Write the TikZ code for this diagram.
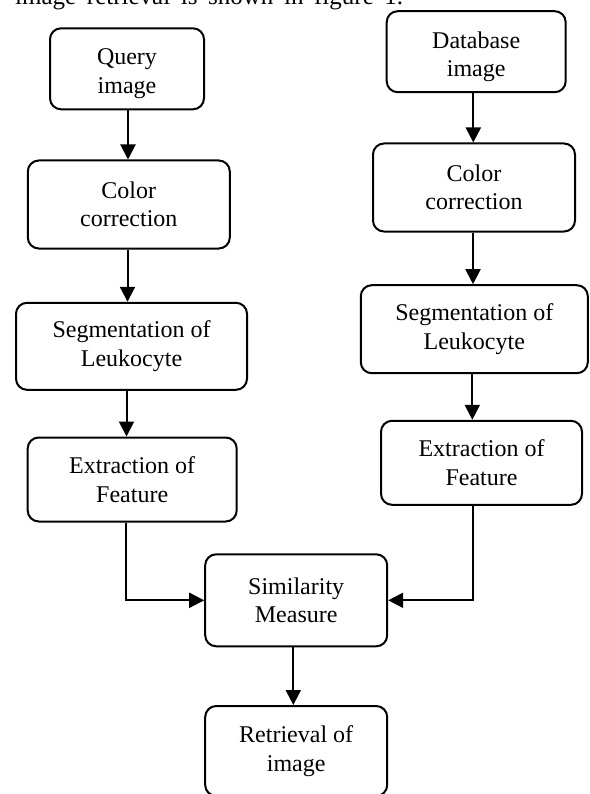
\documentclass[tikz,border=0pt]{standalone}
\usepackage{fontspec}
\setmainfont{Liberation Serif}
\usetikzlibrary{arrows.meta}
\begin{document}
\begin{tikzpicture}[x=1pt,y=-1pt,
  box/.style={draw, line width=2pt, rounded corners=11pt, align=center, inner sep=0pt, font=\fontsize{24}{28.5}\selectfont},
  txt/.style={align=center, inner sep=0pt, font=\fontsize{24}{28.5}\selectfont},
  arr/.style={line width=2pt, -{Triangle[length=15pt,width=15pt]}}]
\useasboundingbox (0,0) rectangle (589,794);
\clip (0,0) rectangle (589,794);

\node[anchor=base west, inner sep=0pt, font=\fontsize{25}{30}\selectfont] (cap) at (15,5) {\makebox[388pt][s]{image retrieval is shown in figure 1.}};

\node[box, minimum width=154pt, minimum height=81pt] (q) at (127,68.8) {};
\node[txt] (qt) at ([yshift=-5pt]q.center) {Query\\image};
\node[box, minimum width=179pt, minimum height=81pt] (d) at (476.2,51.7) {};
\node[txt] (dt) at ([yshift=-5pt]d.center) {Database\\image};

\node[box, minimum width=202pt, minimum height=88pt] (c1) at (128.8,204.5) {Color\\correction};
\node[box, minimum width=202pt, minimum height=88pt] (c2) at (474,187.5) {Color\\correction};
\node[box, minimum width=231pt, minimum height=87pt] (s1) at (131.5,346.3) {Segmentation of\\Leukocyte};
\node[box, minimum width=227pt, minimum height=88pt] (s2) at (474.3,329.2) {Segmentation of\\Leukocyte};
\node[box, minimum width=209pt, minimum height=84pt] (e1) at (132.2,479.5) {Extraction of\\Feature};
\node[box, minimum width=201pt, minimum height=84pt] (e2) at (481.5,462.8) {Extraction of\\Feature};
\node[box, minimum width=182pt, minimum height=92pt] (sm) at (296.2,600.3) {Similarity\\Measure};
\node[box, minimum width=182pt, minimum height=90pt] (rt) at (296.2,751) {Retrieval of\\image};

\coordinate (xa) at (128,0);
\coordinate (xb) at (127.5,0);
\coordinate (xc) at (126.5,0);
\coordinate (xd) at (125.7,0);
\coordinate (ya) at (473.3,0);
\coordinate (yb) at (473,0);
\coordinate (yc) at (472.3,0);
\coordinate (yd) at (472.7,0);
\coordinate (zm) at (293.3,0);

\draw[arr] (q.south -| xa) -- (c1.north -| xa);
\draw[arr] (c1.south -| xb) -- (s1.north -| xb);
\draw[arr] (s1.south -| xc) -- (e1.north -| xc);
\draw[arr] (e1.south -| xd) |- (sm.west);
\draw[arr] (d.south -| ya) -- (c2.north -| ya);
\draw[arr] (c2.south -| yb) -- (s2.north -| yb);
\draw[arr] (s2.south -| yc) -- (e2.north -| yc);
\draw[arr] (e2.south -| yd) |- (sm.east);
\draw[arr] (sm.south -| zm) -- (rt.north -| zm);
\end{tikzpicture}
\end{document}
